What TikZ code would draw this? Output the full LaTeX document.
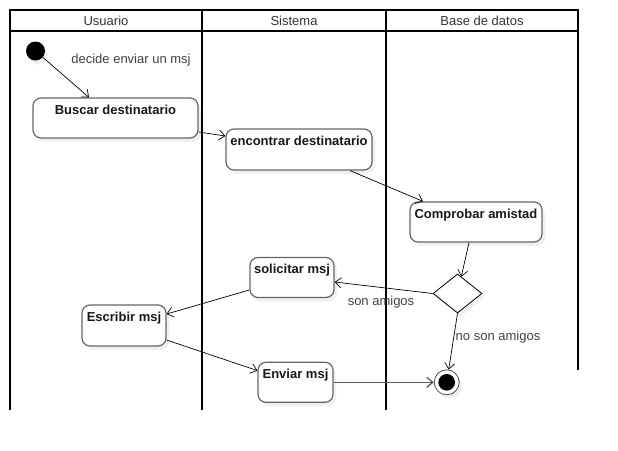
\documentclass[tikz,border=0pt]{standalone}
\usepackage{fontspec}
\setmainfont{Liberation Sans}
\usetikzlibrary{shapes.geometric, arrows.meta, shadows}

\begin{document}
\begin{tikzpicture}[
  x=1pt, y=-1pt,
  carril/.style={line width=2pt, black},
  cabecera/.style={font=\fontsize{13}{15}\selectfont, text=black!80},
  sombra/.style={drop shadow={shadow xshift=3pt, shadow yshift=-4pt, opacity=0.12}},
  actividad/.style={rectangle, rounded corners=8pt, draw=black!60, line width=1.2pt, fill=white, minimum height=40pt, inner sep=0pt, sombra},
  titulo/.style={anchor=north, inner sep=0pt, yshift=-7pt, font=\bfseries\fontsize{13}{15}\selectfont, text=black!90},
  inicio/.style={circle, fill=black, minimum size=19pt, inner sep=0pt, sombra},
  nodofin/.style={circle, draw=black!70, fill=white, line width=0.8pt, minimum size=25pt, inner sep=0pt, sombra,
    path picture={\fill[black] (path picture bounding box.center) circle (8.3pt);}},
  decision/.style={diamond, draw=black, fill=white, line width=0.8pt, minimum width=49pt, minimum height=39pt, inner sep=0pt, sombra},
  flecha/.style={-{Straight Barb[length=6pt,width=10pt]}, line width=0.7pt, black},
  etiqueta/.style={anchor=base, font=\fontsize{13}{15}\selectfont, text=black!75}
]
\useasboundingbox (0,0) rectangle (618,450);

% Carriles
\draw[carril] (10,10) rectangle (578,31);
\draw[carril] (10,31) -- (10,410);
\draw[carril] (202,10) -- (202,410);
\draw[carril] (386,10) -- (386,410);
\draw[carril] (578,31) -- (578,370);

\node[cabecera] (usuario) at (106,20.5) {Usuario};
\node[cabecera] (sistema) at (294,20.5) {Sistema};
\node[cabecera] (basedatos) at (482,20.5) {Base de datos};

% Actividades
\node[inicio] (inicio) at (35.5,51) {};
\node[actividad, minimum width=165pt, label={[titulo]north:Buscar destinatario}] (buscar) at (115.5,118) {};
\node[actividad, minimum width=146pt, minimum height=41pt, label={[titulo]north:encontrar destinatario}] (encontrar) at (299,149.5) {};
\node[actividad, minimum width=132pt, label={[titulo]north:Comprobar amistad}] (comprobar) at (476,222) {};
\node[decision] (decision) at (457.5,293.5) {};
\node[actividad, minimum width=84pt, label={[titulo]north:solicitar msj}] (solicitar) at (292,277.5) {};
\node[actividad, minimum width=84pt, minimum height=41pt, label={[titulo]north:Escribir msj}] (escribir) at (124,325.5) {};
\node[actividad, minimum width=75pt, label={[titulo]north:Enviar msj}] (enviar) at (295.5,382.3) {};
\node[nodofin] (fin) at (446.7,382.3) {};

% Transiciones
\draw[flecha] (inicio) -- ([xshift=-26.5pt]buscar.north);
\node[etiqueta] (decide) at (131,63.5) {decide enviar un msj};
\draw[flecha] ([yshift=-14pt]buscar.east) -- ([yshift=13.5pt]encontrar.west);
\draw[flecha] ([xshift=51pt]encontrar.south) -- ([xshift=-53pt]comprobar.north);
\draw[flecha] ([xshift=-7pt]comprobar.south) -- (decision);
\draw[flecha] (decision.west) -- ([yshift=-4.5pt]solicitar.east);
\node[etiqueta] (amigos) at (381,305) {son amigos};
\draw[flecha] (decision.south) -- (fin);
\node[etiqueta] (noamigos) at (498,340.5) {no son amigos};
\draw[flecha] ([yshift=-12.5pt]solicitar.west) -- ([yshift=11.5pt]escribir.east);
\draw[flecha] ([yshift=-14.5pt]escribir.east) -- ([yshift=11.7pt]enviar.west);
\draw[flecha, line width=1.3pt, black!65] (enviar) -- (fin);

\end{tikzpicture}
\end{document}
